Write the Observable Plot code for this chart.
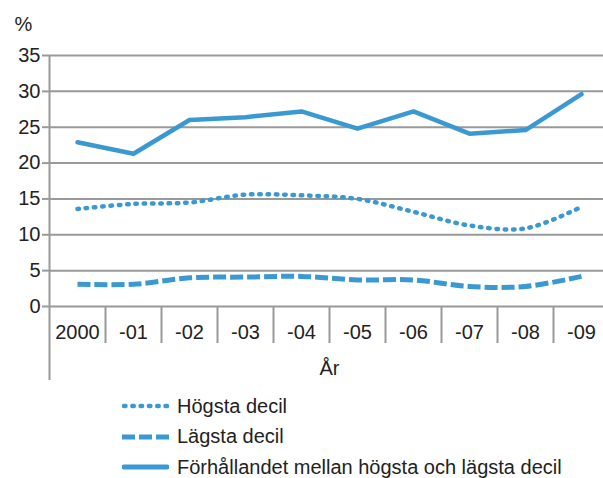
<!DOCTYPE html>
<html>
<head>
<meta charset="utf-8">
<script src="https://cdn.jsdelivr.net/npm/d3@7"></script>
<script src="https://cdn.jsdelivr.net/npm/@observablehq/plot@0.6"></script>
<style>
  html, body { margin: 0; padding: 0; background: white; }
  body { width: 603px; height: 478px; overflow: hidden; font-family: "Liberation Sans", Arial, sans-serif; color: #222; }
  #legend { margin-left: 122px; padding-top: 3px; }
  .row { display: flex; align-items: center; height: 30.5px; font-size: 20px; }
  .row svg { width: 47px; height: 10px; margin-right: 8px; flex: none; }
</style>
</head>
<body>
<div id="chart"></div>
<div id="legend"></div>
<script>
const years = ["2000", "-01", "-02", "-03", "-04", "-05", "-06", "-07", "-08", "-09"];
const hogsta = [13.6, 14.3, 14.5, 15.6, 15.5, 15.0, 13.2, 11.3, 10.9, 13.9];
const lagsta = [3.1, 3.1, 4.0, 4.1, 4.2, 3.7, 3.7, 2.8, 2.8, 4.2];
const forhallande = [22.9, 21.3, 26.0, 26.4, 27.2, 24.8, 27.2, 24.1, 24.6, 29.6];
const yTicks = [0, 5, 10, 15, 20, 25, 30, 35];
const seriesNames = ["Högsta decil", "Lägsta decil", "Förhållandet mellan högsta och lägsta decil"];

const blue = "#3a99d3";
const grey = "#999999";
const idx = years.map((d, i) => i);
const boundaries = idx.slice(1).map(i => i - 0.5);

const rows = (vals) => vals.map((v, i) => ({i, year: years[i], value: v}));

const styles = [
  {stroke: blue, strokeWidth: 4.5, strokeDasharray: "1.5,6.8", strokeLinecap: "round", curve: "catmull-rom"},
  {stroke: blue, strokeWidth: 5, strokeDasharray: "13,4", strokeLinecap: "butt", curve: "catmull-rom"},
  {stroke: blue, strokeWidth: 4.5, strokeLinecap: "round", strokeLinejoin: "round", curve: "linear"}
];

const chart = Plot.plot({
  width: 603,
  height: 388,
  marginLeft: 49,
  marginRight: 0,
  marginTop: 55,
  marginBottom: 82,
  style: {fontFamily: "Liberation Sans, Arial, sans-serif", fontSize: "20px", color: "#222", background: "white", overflow: "visible"},
  x: {type: "linear", domain: [-0.5, years.length - 0.5], range: [49, 609], axis: null},
  y: {domain: [0, 35], axis: null},
  marks: [
    Plot.gridY(yTicks, {stroke: grey, strokeWidth: 2, strokeOpacity: 1}),
    Plot.axisY(yTicks, {tickSize: 7, tickPadding: 2, stroke: grey, strokeWidth: 2, strokeOpacity: 1, fill: "#222", fontSize: 20, label: null}),
    Plot.ruleX([-0.5], {stroke: grey, strokeWidth: 2}),
    Plot.axisX(boundaries, {tickSize: 37, tickFormat: () => "", stroke: grey, strokeWidth: 2, strokeOpacity: 1, label: null}),
    Plot.axisX([-0.5], {tickSize: 74, tickFormat: () => "", stroke: grey, strokeWidth: 2, strokeOpacity: 1, label: null}),
    Plot.axisX(idx, {tickSize: 0, tickPadding: 18, tickFormat: i => years[i], fill: "#222", fontSize: 20, label: null}),
    Plot.line(rows(hogsta), {x: "i", y: "value", ...styles[0]}),
    Plot.line(rows(lagsta), {x: "i", y: "value", ...styles[1]}),
    Plot.line(rows(forhallande), {x: "i", y: "value", ...styles[2]}),
    Plot.text(["%"], {text: d => d, frameAnchor: "top-left", textAnchor: "middle", lineAnchor: "middle", dx: -26, dy: -31, fill: "#222", fontSize: 20}),
    Plot.text(["År"], {text: d => d, frameAnchor: "bottom", textAnchor: "middle", lineAnchor: "middle", dx: 3, dy: 62, fill: "#222", fontSize: 20})
  ]
});
document.getElementById("chart").appendChild(chart);

const legend = document.getElementById("legend");
seriesNames.forEach((name, k) => {
  const s = styles[k];
  const row = document.createElement("div");
  row.className = "row";
  row.innerHTML = `<svg viewBox="0 0 47 10"><line x1="${k === 0 ? 2 : k === 1 ? 0 : 2}" y1="5" x2="${k === 2 ? 45 : 47}" y2="5" stroke="${s.stroke}" stroke-width="${k === 2 ? 5 : s.strokeWidth}" ${s.strokeDasharray ? `stroke-dasharray="${s.strokeDasharray}"` : ""} stroke-linecap="${s.strokeLinecap}"/></svg><span>${name}</span>`;
  legend.appendChild(row);
});
</script>
</body>
</html>
